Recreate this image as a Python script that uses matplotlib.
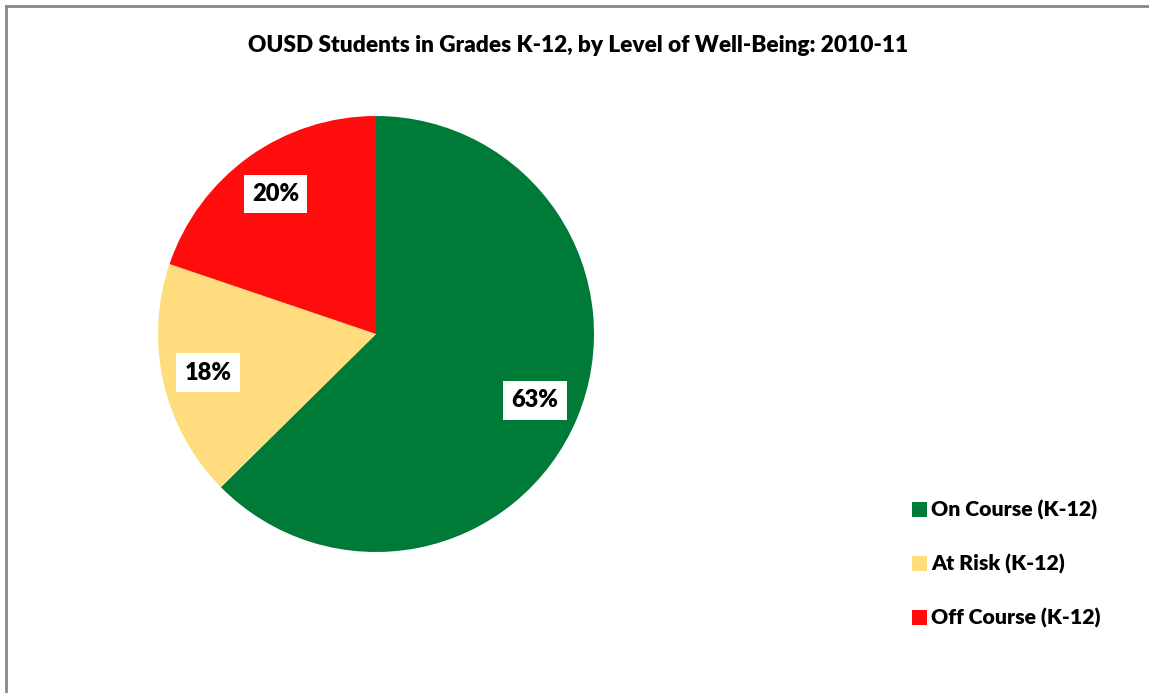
import matplotlib.pyplot as plt
from matplotlib.lines import Line2D
from matplotlib.patches import Patch

# --- DATA ---
categories = ["On Course (K-12)", "At Risk (K-12)", "Off Course (K-12)"]
shares = [62.6, 17.6, 19.8]
colors = ["#007A37", "#FFDD7F", "#FF0D0D"]
title = "OUSD Students in Grades K-12, by Level of Well-Being: 2010-11"

plt.rcParams["font.family"] = ["Lato", "DejaVu Sans"]

W, H = 1149, 693
fig = plt.figure(figsize=(W / 100, H / 100), dpi=100)

# pie centred at (376, 334) px, radius 218 px
ax = fig.add_axes([158 / W, (H - 334 - 218) / H, 436 / W, 436 / H])
wedges, texts, autotexts = ax.pie(
    shares,
    colors=colors,
    startangle=90,
    counterclock=False,
    autopct="%.0f%%",
    pctdistance=0.79,
    wedgeprops={"linewidth": 0},
    textprops={"fontsize": 17, "fontweight": "heavy", "color": "black"},
)
for t in autotexts:
    t.set_bbox({"facecolor": "white", "edgecolor": "none", "pad": 6})
ax.set_xlim(-1, 1)
ax.set_ylim(-1, 1)

fig.text(578 / W, 1 - 45 / H, title, ha="center", va="center",
         fontsize=16.3, fontweight="heavy")

# legend on the right
handles = [Patch(facecolor=c, edgecolor="none") for c in colors]
fig.legend(
    handles, categories,
    loc="upper left", bbox_to_anchor=(893 / W, 1 - 481 / H),
    frameon=False, handlelength=0.7, handleheight=0.7, handletextpad=0.2,
    labelspacing=1.6, prop={"size": 15.3, "weight": "heavy"},
)

# chart frame (only top and left edges visible)
fig.add_artist(Line2D([6 / W, 6 / W], [0, 1 - 6 / H], color="#888888", lw=2))
fig.add_artist(Line2D([6 / W, 1], [1 - 6 / H, 1 - 6 / H], color="#888888", lw=2))

fig.savefig("out.png", dpi=100)
